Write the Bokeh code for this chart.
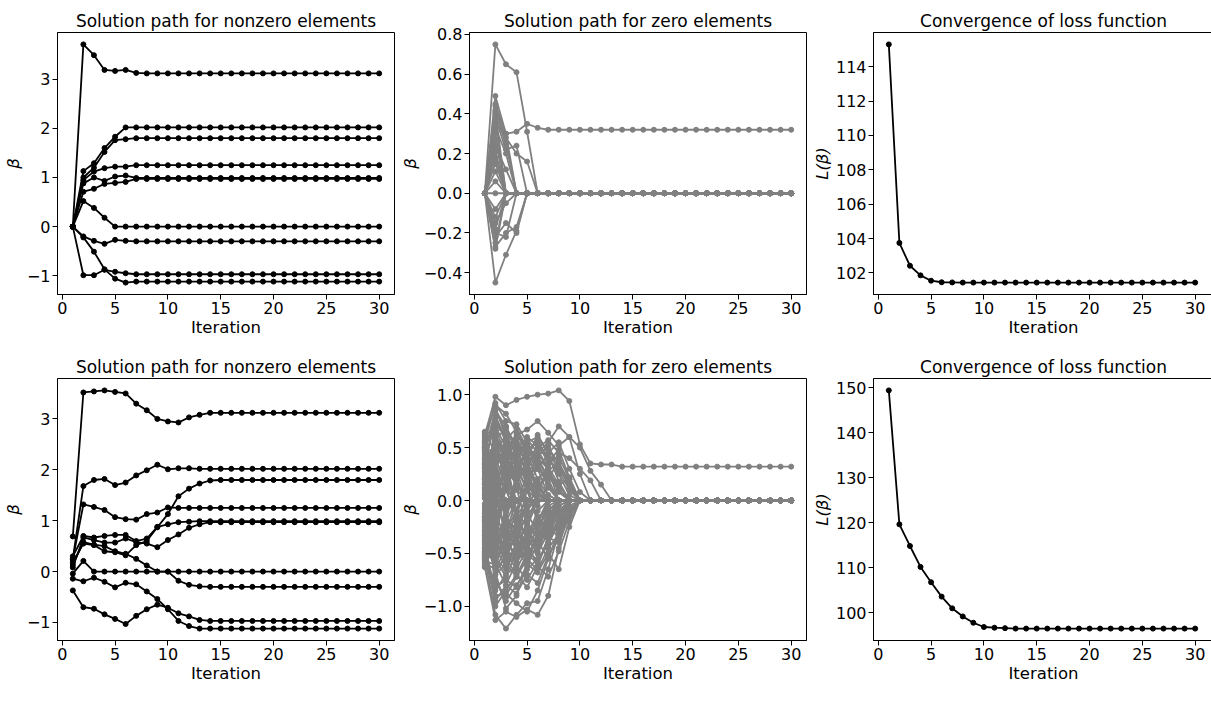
from bokeh.plotting import figure
from bokeh.layouts import gridplot
from bokeh.models import Range1d, FixedTicker, CustomJSTickFormatter
from bokeh.embed import file_html
from bokeh.resources import INLINE

# ---------------- data ----------------
N_ITER = 30
iterations = list(range(1, N_ITER + 1))
x_ticks = [0, 5, 10, 15, 20, 25, 30]

# Each path lists iterations 1..k; after k the value stays at its last reading.
# Row 1 – nonzero elements
top_nonzero = [
    [0, 3.71, 3.49, 3.19, 3.17, 3.19, 3.13, 3.12],
    [0, 1.13, 1.29, 1.60, 1.83, 2.02],
    [0, 1.00, 1.20, 1.52, 1.76, 1.78, 1.80],
    [0, 0.95, 1.12, 1.19, 1.22, 1.22, 1.25],
    [0, 0.88, 1.00, 0.93, 1.02, 1.04, 0.99],
    [0, 0.71, 0.77, 0.87, 0.89, 0.91, 0.97],
    [0, 0.52, 0.38, 0.18, 0.0],
    [0, -0.20, -0.29, -0.35, -0.27, -0.29, -0.30],
    [0, -0.99, -0.99, -0.88, -0.92, -0.95, -0.97],
    [0, -0.22, -0.51, -0.87, -1.06, -1.14, -1.12],
]
# Row 1 – zero elements
top_zero = [
    [0, 0.75, 0.65, 0.61, 0.31, 0.0],
    [0, 0.45, 0.30, 0.31, 0.35, 0.33, 0.32],
    [0, 0.49, 0.30, 0.0],
    [0, 0.42, 0.28, 0.20, 0.16, 0.0],
    [0, 0.40, 0.25, 0.0],
    [0, 0.38, 0.22, 0.24, 0.0],
    [0, 0.36, 0.0],
    [0, 0.33, 0.20, 0.0],
    [0, 0.44, 0.26, 0.0],
    [0, 0.41, 0.0],
    [0, 0.30, 0.0],
    [0, 0.27, 0.0],
    [0, 0.24, 0.12, 0.0],
    [0, 0.21, 0.0],
    [0, 0.18, 0.0],
    [0, 0.15, 0.0],
    [0, 0.11, 0.0],
    [0, 0.06, 0.0],
    [0, 0.0],
    [0, -0.08, 0.0],
    [0, -0.12, 0.0],
    [0, -0.15, -0.05, 0.0],
    [0, -0.18, 0.0],
    [0, -0.20, -0.22, 0.0],
    [0, -0.22, -0.15, -0.20, 0.0],
    [0, -0.25, 0.0],
    [0, -0.27, -0.20, -0.17, 0.0],
    [0, -0.28, 0.0],
    [0, -0.45, -0.31, -0.19, 0.0],
]
top_loss = [115.3, 103.75, 102.42, 101.86, 101.55, 101.46, 101.45, 101.44]

# Row 2 – nonzero elements
bottom_nonzero = [
    [0.69, 3.52, 3.54, 3.56, 3.53, 3.50, 3.30, 3.17, 3.00, 2.95, 2.93, 3.03, 3.08, 3.12],
    [0.25, 1.68, 1.80, 1.82, 1.70, 1.75, 1.89, 1.99, 2.10, 2.01, 2.03, 2.03, 2.02],
    [0.18, 0.55, 0.52, 0.40, 0.38, 0.32, 0.52, 0.60, 0.87, 1.13, 1.48, 1.63, 1.73, 1.79, 1.80],
    [0.24, 1.32, 1.27, 1.21, 1.07, 1.03, 1.02, 1.13, 1.16, 1.26, 1.25],
    [0.30, 0.70, 0.67, 0.70, 0.72, 0.72, 0.60, 0.65, 0.88, 0.93, 0.97, 0.98, 0.99],
    [0.08, 0.67, 0.62, 0.57, 0.57, 0.65, 0.58, 0.55, 0.48, 0.62, 0.73, 0.86, 0.93, 0.97],
    [-0.04, 0.21, 0.0],
    [0.13, 0.58, 0.53, 0.50, 0.40, 0.35, 0.25, 0.12, 0.0, 0.0, -0.18, -0.26, -0.29, -0.30],
    [-0.14, -0.19, -0.12, -0.20, -0.31, -0.22, -0.25, -0.39, -0.54, -0.74, -0.97, -1.07, -1.12],
    [-0.37, -0.70, -0.73, -0.84, -0.93, -1.03, -0.87, -0.74, -0.65, -0.71, -0.82, -0.88, -0.95, -0.97],
]
# Row 2 – zero elements
bottom_zero = [
    [0.62, 0.98, 0.90, 0.95, 0.98, 1.00, 1.01, 1.04, 0.94, 0.53, 0.35, 0.34, 0.34, 0.32],
    [0.55, 0.92, 0.75, 0.72, 0.55, 0.60, 0.45, 0.30, 0.15, 0.0],
    [-0.45, 0.60, 0.45, 0.62, 0.67, 0.75, 0.64, 0.52, 0.60, 0.25, 0.0],
    [0.30, 0.85, 0.70, 0.50, 0.58, 0.45, 0.55, 0.70, 0.60, 0.50, 0.28, 0.15, 0.0],
    [-0.20, 0.72, 0.62, 0.55, 0.40, 0.50, 0.57, 0.45, 0.40, 0.30, 0.19, 0.0],
    [0.48, 0.78, 0.55, 0.35, 0.60, 0.52, 0.38, 0.30, 0.20, 0.0],
    [0.10, 0.65, 0.70, 0.45, 0.30, 0.42, 0.50, 0.35, 0.18, 0.0],
    [-0.60, -0.30, 0.20, 0.55, 0.45, 0.30, 0.20, 0.38, 0.10, 0.0],
    [0.40, 0.45, 0.38, 0.25, 0.50, 0.35, 0.15, 0.0],
    [0.22, 0.30, 0.52, 0.40, 0.20, 0.10, 0.25, 0.15, 0.20, 0.0],
    [-0.35, 0.55, 0.30, 0.20, 0.35, 0.15, 0.0],
    [0.52, 0.20, 0.35, 0.48, 0.25, 0.0],
    [0.05, 0.40, 0.15, 0.30, 0.10, 0.20, 0.05, 0.0],
    [-0.10, 0.35, 0.45, 0.10, 0.0],
    [0.60, 0.15, -0.10, 0.22, 0.30, 0.12, 0.0],
    [0.35, 0.10, 0.25, 0.0],
    [-0.52, 0.25, 0.10, -0.15, 0.18, 0.0],
    [0.18, -0.05, 0.32, 0.20, -0.10, 0.05, 0.0],
    [0.45, 0.50, 0.20, 0.0],
    [-0.25, 0.15, 0.0],
    [0.28, -0.20, 0.10, 0.0],
    [0.65, 0.62, 0.40, 0.28, 0.0],
    [-0.32, 0.88, 0.60, 0.33, 0.10, 0.0],
    [-0.63, -1.13, -1.05, -1.10, -1.03, -1.08, -0.90, -0.45, -0.05, 0.0],
    [-0.55, -1.08, -1.21, -1.08, -0.97, -0.95, -0.65, -0.30, 0.0],
    [-0.40, -0.90, -0.88, -0.97, -1.05, -0.85, -0.55, -0.28, 0.0],
    [0.20, -0.82, -0.75, -0.82, -0.60, -0.68, -0.50, -0.65, -0.25, 0.0],
    [-0.62, -0.75, -0.95, -0.80, -0.65, -0.55, -0.42, -0.20, 0.0],
    [-0.30, -0.70, -0.60, -0.72, -0.50, -0.60, -0.35, -0.40, -0.15, 0.0],
    [0.50, -0.65, -0.55, -0.45, -0.62, -0.40, -0.30, -0.25, 0.0],
    [-0.58, -0.60, -0.80, -0.58, -0.45, -0.50, -0.20, 0.0],
    [-0.15, -0.55, -0.65, -0.40, -0.55, -0.30, -0.35, -0.10, 0.0],
    [-0.48, -0.50, -0.35, -0.55, -0.30, -0.45, -0.15, 0.0],
    [0.12, -0.45, -0.50, -0.30, -0.40, -0.20, -0.28, 0.0],
    [-0.05, -0.40, -0.25, -0.48, -0.20, -0.35, -0.10, 0.0],
    [-0.42, -0.30, -0.45, -0.20, -0.35, -0.10, 0.0],
    [0.38, -0.35, -0.15, -0.30, -0.15, 0.0],
    [-0.28, -0.20, -0.40, -0.10, -0.25, 0.0],
    [0.02, -0.60, -0.30, -0.15, 0.0],
    [-0.50, -0.10, -0.20, -0.35, 0.0],
    [0.25, -0.25, -0.50, -0.20, -0.05, 0.0],
    [-0.38, -0.48, -0.10, 0.0],
    [-0.18, 0.05, -0.30, 0.0],
    [0.58, -0.15, 0.0],
    [-0.57, 0.0],
    [0.42, 0.0],
    [-0.08, -0.15, -0.05, 0.0],
    [0.15, 0.25, 0.0],
    [-0.45, -0.85, -0.70, -0.62, -0.75, -0.58, -0.40, 0.0],
    [0.33, -0.68, -1.02, -0.90, -0.60, -0.30, 0.0],
    [0.64, 0.45, 0.55, 0.20, 0.0],
    [-0.62, -0.40, -0.55, -0.30, 0.0],
    [0.56, -0.50, -0.20, 0.0],
    [-0.54, 0.50, 0.30, 0.0],
    [0.47, 0.85, 0.65, 0.40, 0.15, 0.0],
    [-0.46, 0.70, 0.50, 0.58, 0.30, 0.0],
    [0.36, 0.75, 0.60, 0.45, 0.52, 0.38, 0.20, 0.0],
    [-0.22, -0.55, -0.72, -0.48, -0.30, -0.42, -0.25, 0.0],
    [0.08, 0.60, 0.35, 0.50, 0.25, 0.40, 0.30, 0.10, 0.0],
    [-0.12, -0.35, -0.60, -0.42, -0.58, -0.32, -0.18, -0.05, 0.0],
    [0.27, -0.45, -0.62, -0.50, -0.38, -0.22, 0.0],
    [-0.33, 0.40, 0.55, 0.30, 0.45, 0.20, 0.32, 0.15, 0.0],
    [0.43, 0.10, -0.35, -0.20, -0.45, -0.25, -0.10, 0.0],
    [-0.41, -0.20, 0.25, 0.40, 0.15, 0.30, 0.05, 0.0],
    [0.54, 0.30, 0.10, 0.35, 0.18, 0.40, 0.22, 0.10, 0.0],
    [-0.59, -0.65, -0.45, -0.60, -0.35, -0.50, -0.30, -0.12, 0.0],
    [0.16, -0.10, -0.40, -0.25, -0.50, -0.38, -0.55, -0.30, -0.10, 0.0],
    [-0.26, 0.20, -0.15, 0.12, -0.25, 0.08, 0.0],
    [0.61, 0.90, 0.82, 0.65, 0.48, 0.55, 0.35, 0.42, 0.20, 0.0],
    [-0.52, -0.95, -0.80, -0.88, -0.70, -0.78, -0.52, -0.35, -0.12, 0.0],
    [0.31, 0.55, 0.20, -0.10, 0.15, -0.20, 0.0],
    [-0.07, 0.45, 0.62, 0.30, 0.48, 0.55, 0.40, 0.25, 0.05, 0.0],
    [0.49, -0.30, -0.50, -0.65, -0.45, -0.58, -0.40, -0.22, 0.0],
    [-0.16, -0.70, -0.50, -0.35, -0.48, -0.25, -0.40, -0.15, 0.0],
    [0.03, 0.35, 0.48, 0.58, 0.40, 0.62, 0.45, 0.55, 0.30, 0.08, 0.0],
    [0.57, 0.68, 0.42, 0.55, 0.33, 0.47, 0.28, 0.36, 0.12, 0.0],
    [-0.49, -0.58, -0.38, -0.52, -0.28, -0.44, -0.22, -0.30, -0.08, 0.0],
    [0.21, 0.48, 0.22, 0.44, 0.18, 0.35, 0.12, 0.0],
    [-0.37, -0.42, -0.18, -0.38, -0.12, -0.30, -0.05, 0.0],
    [0.44, 0.20, 0.45, 0.15, 0.38, 0.10, 0.30, 0.08, 0.0],
    [-0.24, -0.62, -0.35, -0.58, -0.28, -0.48, -0.22, -0.36, -0.10, 0.0],
    [0.11, -0.38, 0.15, -0.28, 0.10, -0.20, 0.0],
    [-0.61, 0.30, -0.20, 0.25, -0.12, 0.18, 0.0],
    [0.59, -0.05, 0.40, -0.10, 0.28, -0.05, 0.15, 0.0],
    [-0.03, 0.62, 0.40, 0.65, 0.42, 0.58, 0.36, 0.48, 0.22, 0.0],
    [0.34, 0.80, 0.58, 0.68, 0.50, 0.42, 0.52, 0.28, 0.10, 0.0],
    [-0.44, -1.00, -0.85, -0.70, -0.82, -0.62, -0.72, -0.48, -0.20, 0.0],
    [0.26, -0.78, -0.90, -0.72, -0.55, -0.66, -0.45, -0.32, 0.0],
    [-0.19, 0.58, 0.68, 0.52, 0.35, 0.48, 0.30, 0.0],
    [0.50, 0.38, -0.25, -0.40, -0.22, -0.35, -0.15, 0.0],
    [-0.56, -0.25, -0.55, -0.70, -0.52, -0.38, -0.18, 0.0],
    [0.06, 0.28, -0.45, -0.58, -0.40, -0.62, -0.35, -0.20, 0.0],
    [-0.29, 0.10, 0.42, 0.22, 0.52, 0.30, 0.44, 0.18, 0.0],
    [0.39, 0.52, 0.30, 0.15, 0.38, 0.05, 0.0],
    [-0.11, -0.48, -0.28, -0.10, -0.38, -0.15, -0.30, -0.05, 0.0],
]
bottom_loss = [149.4, 119.65, 114.85, 110.2, 106.8, 103.6, 101.0, 99.2, 97.8,
               96.85, 96.7, 96.6, 96.5]

titles = ["Solution path for nonzero elements",
          "Solution path for zero elements",
          "Convergence of loss function"]
y_labels = ["β", "β", "L(β)"]
top_yticks = [[-1, 0, 1, 2, 3], [-0.4, -0.2, 0.0, 0.2, 0.4, 0.6, 0.8],
              [102, 104, 106, 108, 110, 112, 114]]
bottom_yticks = [[-1, 0, 1, 2, 3], [-1.0, -0.5, 0.0, 0.5, 1.0],
                 [100, 110, 120, 130, 140, 150]]
y_decimals = [0, 1, 0]

# ---------------- helpers ----------------
FONT = "DejaVu Sans"
BLACK = "#000000"
GRAY = "#808080"


def settle(path):
    return list(path) + [path[-1]] * (N_ITER - len(path))


def padded(values, frac=0.05):
    lo, hi = min(values), max(values)
    s = hi - lo
    return Range1d(lo - frac * s, hi + frac * s)


def fmt(d):
    return CustomJSTickFormatter(
        args=dict(d=d),
        code="return (tick < 0 ? '\u2212' : '') + Math.abs(tick).toFixed(d);")


def make_fig(fw, fh, bl, br, bt, bb, x_end, yvals, title, ylabel,
             yticks, ydec):
    p = figure(frame_width=fw, frame_height=fh, output_backend="svg",
               toolbar_location=None, x_range=Range1d(-0.45, x_end),
               y_range=padded(yvals))
    p.min_border = 0
    p.min_border_left = bl
    p.min_border_right = br
    p.min_border_top = bt
    p.min_border_bottom = bb
    p.background_fill_color = "white"
    p.border_fill_color = "white"
    p.outline_line_color = BLACK
    p.outline_line_width = 1
    p.xgrid.visible = False
    p.ygrid.visible = False
    p.title.text = title
    p.title.align = "center"
    p.title.text_font = FONT
    p.title.text_font_size = "17px"
    p.title.text_font_style = "normal"
    p.title.text_color = BLACK
    p.title.standoff = 4
    p.xaxis.axis_label = "Iteration"
    p.yaxis.axis_label = ylabel
    p.xaxis.ticker = FixedTicker(ticks=x_ticks)
    p.yaxis.ticker = FixedTicker(ticks=yticks)
    p.yaxis.formatter = fmt(ydec)
    for ax in (p.xaxis[0], p.yaxis[0]):
        ax.axis_line_color = BLACK
        ax.major_tick_line_color = BLACK
        ax.major_tick_out = 5
        ax.major_tick_in = 0
        ax.minor_tick_line_color = None
        ax.major_label_text_font = FONT
        ax.major_label_text_font_size = "16px"
        ax.major_label_text_color = BLACK
        ax.major_label_standoff = 2
        ax.axis_label_text_font = FONT
        ax.axis_label_text_font_size = "16.5px"
        ax.axis_label_text_color = BLACK
        ax.axis_label_standoff = 1
    p.xaxis.axis_label_text_font_style = "normal"
    p.yaxis.axis_label_text_font_style = "italic"
    return p


def draw_paths(p, paths, color, width=1.8, size=5):
    ys = [settle(pth) for pth in paths]
    xs = [iterations for _ in ys]
    p.multi_line(xs=xs, ys=ys, line_color=color, line_width=width)
    fx = [x for row in xs for x in row]
    fy = [y for row in ys for y in row]
    p.scatter(fx, fy, size=size, fill_color=color, line_color=color)


# frame sizes / borders (px)
FW, FW3, FH = 337, 340, 262
X_END = 31.45
X_END3 = -0.45 + FW3 * (X_END + 0.45) / FW

rows = [
    (top_nonzero, top_zero, top_loss, top_yticks, (32, 53)),
    (bottom_nonzero, bottom_zero, bottom_loss, bottom_yticks, (31, 53)),
]

grid = []
for nz, z, loss, yt, (bt, bb) in rows:
    nz_all = [v for pth in nz for v in pth]
    z_all = [v for pth in z for v in pth]
    loss_s = settle(loss)
    p1 = make_fig(FW, FH, 52, 3, bt, bb, X_END, nz_all, titles[0], y_labels[0], yt[0], y_decimals[0])
    draw_paths(p1, nz, BLACK)
    p2 = make_fig(FW, FH, 68, 3, bt, bb, X_END, z_all, titles[1], y_labels[1], yt[1], y_decimals[1])
    draw_paths(p2, z, GRAY)
    p3 = make_fig(FW3, FH, 63, 0, bt, bb, X_END3, loss_s, titles[2], y_labels[2], yt[2], y_decimals[2])
    p3.line(iterations, loss_s, line_color=BLACK, line_width=1.8)
    p3.scatter(iterations, loss_s, size=5, fill_color=BLACK, line_color=BLACK)
    grid.append([p1, p2, p3])

layout = gridplot(grid, toolbar_location=None)

open("out.html", "w").write(file_html(layout, INLINE))
